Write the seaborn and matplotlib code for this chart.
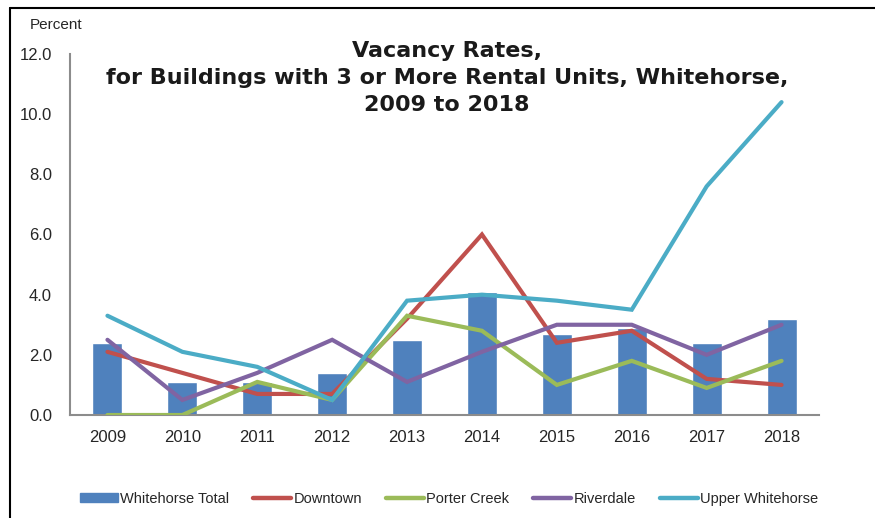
import numpy as np
import pandas as pd
import matplotlib
matplotlib.use("Agg")
import matplotlib.pyplot as plt
import matplotlib.lines as mlines
import matplotlib.patches as mpatches
import seaborn as sns

# Dados
years = ["2009", "2010", "2011", "2012", "2013", "2014", "2015", "2016", "2017", "2018"]
whitehorse_total = [2.4, 1.1, 1.1, 1.4, 2.5, 4.1, 2.7, 2.9, 2.4, 3.2]
downtown = [2.1, 1.4, 0.7, 0.7, 3.2, 6.0, 2.4, 2.8, 1.2, 1.0]
porter_creek = [0.0, 0.0, 1.1, 0.5, 3.3, 2.8, 1.0, 1.8, 0.9, 1.8]
riverdale = [2.5, 0.5, 1.4, 2.5, 1.1, 2.1, 3.0, 3.0, 2.0, 3.0]
upper_whitehorse = [3.3, 2.1, 1.6, 0.5, 3.8, 4.0, 3.8, 3.5, 7.6, 10.4]

line_names = ["Downtown", "Porter Creek", "Riverdale", "Upper Whitehorse"]
line_values = [downtown, porter_creek, riverdale, upper_whitehorse]
line_colors = ["#C0504D", "#9BBB59", "#8064A2", "#4BACC6"]
bar_color = "#4F81BD"
axis_gray = "#8C8C8C"

sns.set_style("white")
plt.rcParams["font.family"] = ["Liberation Sans", "DejaVu Sans"]

fig = plt.figure(figsize=(8.75, 5.18), dpi=100)
ax = fig.add_axes([70 / 875, 1 - 415 / 518, (819 - 70) / 875, (415 - 54) / 518])

# barras
df_bar = pd.DataFrame({"year": years, "total": whitehorse_total})
sns.barplot(data=df_bar, x="year", y="total", color=bar_color, width=0.4,
            saturation=1, ax=ax, zorder=2)

# linhas
pos = np.arange(len(years))
rows = []
for name, vals in zip(line_names, line_values):
    for p, v in zip(pos, vals):
        rows.append({"pos": p, "value": v, "area": name})
df_lines = pd.DataFrame(rows)
sns.lineplot(data=df_lines, x="pos", y="value", hue="area", palette=line_colors,
             linewidth=3, ax=ax, legend=False, zorder=3,
             solid_capstyle="round", solid_joinstyle="miter")

ax.set_xlim(-0.5, 9.5)
ax.set_ylim(0, 12)
ax.set_yticks(np.arange(0, 12.1, 2))
ax.set_yticklabels([f"{v:.1f}" for v in np.arange(0, 12.1, 2)], fontsize=12)
ax.set_xticks(pos)
ax.set_xticklabels(years, fontsize=12)
ax.set_xticks(np.arange(-0.5, 9.6, 1), minor=True)
ax.tick_params(axis="x", which="major", length=0, pad=11)
ax.tick_params(axis="x", which="minor", length=5, width=1.5, color=axis_gray, direction="out")
ax.tick_params(axis="y", length=5, width=1.5, color=axis_gray, direction="out", pad=8)
ax.set_xlabel("")
ax.set_ylabel("")
for side in ["top", "right"]:
    ax.spines[side].set_visible(False)
for side in ["left", "bottom"]:
    ax.spines[side].set_color(axis_gray)
    ax.spines[side].set_linewidth(1.5)

fig.text(30 / 875, 1 - 25 / 518, "Percent", fontsize=11, va="center", ha="left")

fig.text(447 / 875, 1 - 78 / 518,
         "Vacancy Rates,\nfor Buildings with 3 or More Rental Units, Whitehorse,\n2009 to 2018",
         fontsize=16, fontweight="bold", ha="center", va="center",
         linespacing=1.45, family="DejaVu Sans", color="#1a1a1a")

# legenda
handles = [mpatches.Patch(color=bar_color, label="Whitehorse Total")]
for name, c in zip(line_names, line_colors):
    handles.append(mlines.Line2D([], [], color=c, linewidth=3.2, label=name,
                                 solid_capstyle="round"))
fig.legend(handles=handles, loc="center", bbox_to_anchor=(449 / 875, 1 - 499 / 518),
           ncol=5, frameon=False, fontsize=10.5, handlelength=2.6, handletextpad=0.15,
           columnspacing=1.65, handleheight=0.6)

# moldura
fig.add_artist(mlines.Line2D([10 / 875, 10 / 875], [0, 1 - 8 / 518], color="black",
                             linewidth=1.5, transform=fig.transFigure))
fig.add_artist(mlines.Line2D([10 / 875, 1], [1 - 8 / 518, 1 - 8 / 518], color="black",
                             linewidth=1.5, transform=fig.transFigure))

fig.savefig("out.png", dpi=100)
